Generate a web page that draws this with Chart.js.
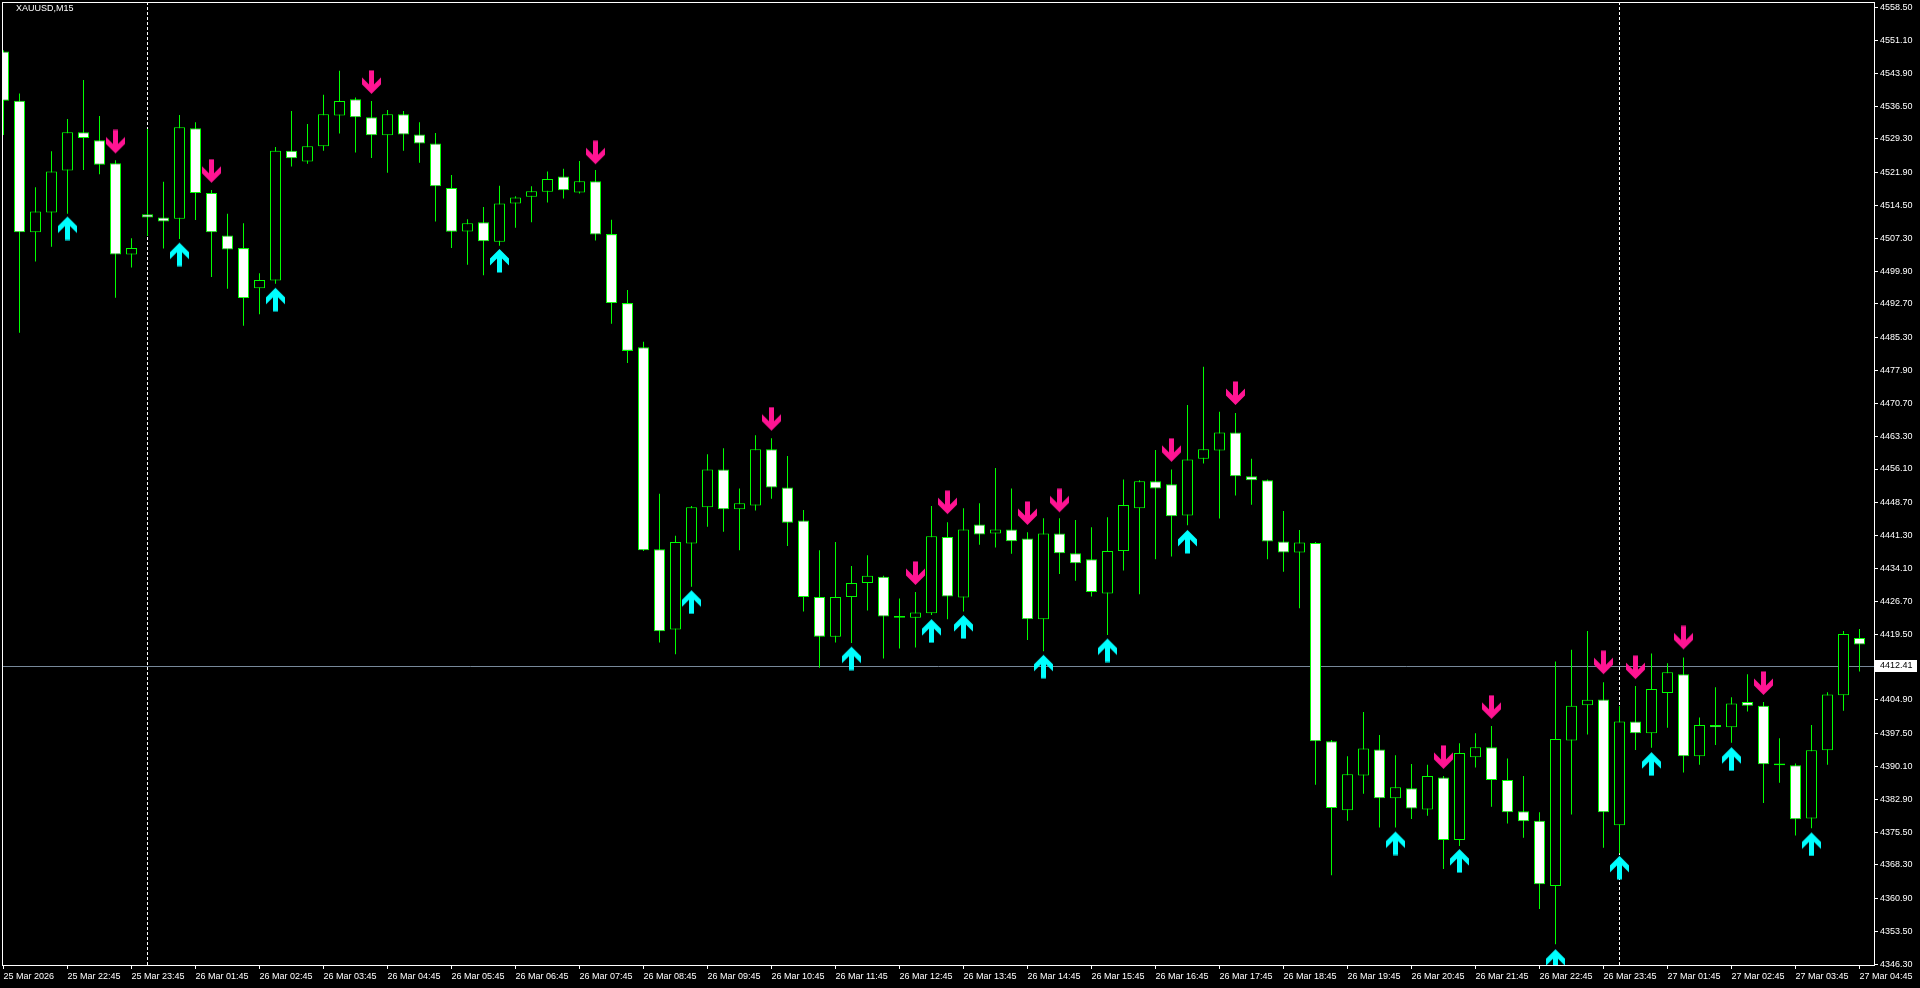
<!DOCTYPE html>
<html>
<head>
<meta charset="utf-8">
<title>XAUUSD,M15</title>
<script src="https://cdn.jsdelivr.net/npm/chart.js@4.4.1/dist/chart.umd.min.js"></script>
<style>
  html, body { margin: 0; padding: 0; background: #000; overflow: hidden; }
  #wrap { position: relative; width: 1920px; height: 988px; }
</style>
</head>
<body>
<div id="wrap"><canvas id="mychart"></canvas></div>
<script>
// M15 bars, oldest first
var open = [4548.7,4537.8,4508.6,4513.0,4522.3,4530.8,4529.0,4523.9,4503.7,4512.6,
  4511.9,4511.6,4531.7,4517.3,4507.9,4505.1,4496.2,4497.9,4526.7,4524.3,
  4527.7,4534.5,4538.1,4534.1,4530.1,4534.8,4530.3,4528.3,4518.4,4508.8,
  4510.8,4506.5,4515.0,4516.5,4517.6,4521.0,4517.4,4519.9,4508.2,4492.9,
  4483.1,4438.3,4420.5,4439.6,4447.6,4456.0,4447.2,4448.0,4460.5,4452.0,
  4444.7,4427.7,4418.9,4427.7,4430.8,4432.2,4423.5,4423.1,4424.1,4441.0,
  4427.6,4443.8,4441.8,4442.7,4440.7,4422.8,4441.8,4437.4,4436.1,4428.5,
  4437.9,4447.4,4453.4,4452.7,4445.8,4458.4,4460.2,4464.2,4454.5,4453.6,
  4440.0,4437.6,4439.7,4395.7,4380.4,4388.1,4393.9,4383.1,4385.3,4380.6,
  4387.7,4373.8,4392.2,4394.4,4387.1,4380.2,4378.1,4363.6,4395.9,4403.7,
  4405.0,4377.1,4400.1,4397.5,4406.4,4410.6,4392.4,4399.3,4398.8,4404.4,
  4403.6,4390.8,4390.4,4378.6,4393.7,4405.9,4418.6];
var high = [4549.0,4539.4,4518.6,4526.6,4533.7,4542.4,4534.4,4524.6,4507.3,4531.5,
  4519.8,4534.6,4533.0,4518.0,4512.7,4510.6,4499.5,4527.5,4535.5,4532.6,
  4539.1,4544.4,4538.5,4537.7,4535.7,4535.5,4533.0,4530.6,4521.3,4511.5,
  4514.2,4518.9,4516.6,4518.8,4522.1,4522.7,4524.4,4522.4,4511.4,4495.8,
  4484.3,4450.6,4441.3,4447.9,4459.4,4460.7,4451.8,4463.6,4462.9,4459.0,
  4447.0,4438.1,4439.9,4434.6,4437.0,4432.4,4427.4,4428.8,4447.9,4444.3,
  4447.4,4448.5,4456.3,4451.8,4442.1,4445.2,4445.2,4444.8,4443.2,4445.4,
  4453.8,4453.6,4460.3,4456.0,4470.3,4478.8,4468.8,4468.5,4458.4,4453.8,
  4446.8,4442.6,4439.9,4396.0,4392.4,4402.2,4397.1,4392.6,4390.7,4390.5,
  4388.0,4395.3,4397.5,4399.1,4391.9,4388.0,4380.0,4413.4,4416.0,4420.2,
  4408.8,4403.5,4408.0,4415.2,4413.0,4414.3,4401.0,4407.7,4405.5,4410.6,
  4404.4,4396.4,4390.8,4399.3,4406.6,4420.2,4420.6];
var low = [4530.2,4486.3,4502.1,4505.4,4512.7,4522.4,4521.5,4494.1,4500.8,4507.8,
  4505.0,4507.1,4511.3,4498.7,4496.1,4487.9,4490.4,4497.2,4523.2,4523.8,
  4526.7,4530.5,4526.3,4525.1,4521.8,4526.7,4524.0,4511.0,4505.1,4501.4,
  4499.1,4505.6,4509.6,4510.8,4515.2,4516.1,4517.2,4506.8,4488.3,4479.6,
  4437.9,4417.6,4415.0,4430.0,4443.3,4442.2,4438.1,4446.9,4449.5,4439.0,
  4424.5,4412.0,4417.6,4417.5,4424.7,4414.1,4416.3,4416.5,4423.7,4422.8,
  4424.5,4439.3,4438.7,4437.3,4418.2,4415.7,4432.8,4431.3,4427.8,4419.3,
  4433.6,4428.3,4436.1,4436.7,4443.6,4457.3,4445.1,4450.2,4448.2,4436.1,
  4433.3,4425.2,4386.1,4366.0,4378.1,4384.1,4376.6,4376.6,4378.5,4379.2,
  4367.4,4372.5,4389.9,4381.2,4377.5,4374.3,4358.5,4350.7,4379.5,4397.2,
  4372.1,4370.9,4393.8,4394.3,4398.7,4388.8,4390.5,4394.9,4395.4,4402.3,
  4382.0,4386.5,4374.8,4376.4,4390.5,4402.5,4411.2];
var close = [4537.8,4508.6,4513.2,4522.1,4530.8,4529.5,4523.6,4503.7,4505.1,4511.9,
  4511.0,4531.9,4517.3,4508.6,4504.8,4494.0,4498.0,4526.7,4525.0,4527.7,
  4534.8,4537.7,4534.1,4530.1,4534.8,4530.3,4528.3,4518.8,4508.7,4510.6,
  4506.6,4515.0,4516.3,4517.7,4520.4,4517.9,4519.9,4508.1,4492.9,4482.3,
  4438.1,4420.1,4439.9,4447.6,4456.0,4447.2,4448.5,4460.5,4452.0,4444.2,
  4427.7,4418.9,4427.7,4430.8,4432.4,4423.4,4423.1,4424.3,4441.2,4427.8,
  4442.7,4441.6,4442.7,4440.1,4422.8,4441.8,4437.4,4435.2,4428.8,4437.9,
  4448.1,4453.4,4451.8,4445.6,4458.2,4460.5,4464.2,4454.5,4453.6,4440.0,
  4437.6,4439.8,4395.7,4380.9,4388.4,4394.1,4383.1,4385.5,4380.8,4388.0,
  4373.8,4393.1,4394.4,4387.1,4380.0,4378.0,4364.0,4396.2,4403.6,4404.9,
  4380.0,4400.1,4397.5,4407.3,4411.0,4392.4,4399.3,4398.8,4404.1,4403.6,
  4390.6,4390.4,4378.4,4393.7,4406.1,4419.5,4417.2];

// signal arrows: bar index and price of the arrow tip
var upArrowBars = [4, 11, 17, 31, 43, 53, 58, 60, 65, 69, 74, 87, 91, 97, 101, 103, 108, 113];
var upArrowPrice = [4512.1, 4506.3, 4496.3, 4504.9, 4429.2, 4416.7, 4422.8, 4423.7, 4414.9, 4418.5,
  4442.6, 4375.7, 4371.8, 4349.6, 4370.3, 4393.3, 4394.4, 4375.5];
var downArrowBars = [7, 13, 23, 37, 48, 57, 59, 64, 66, 73, 77, 90, 93, 100, 102, 105, 110];
var downArrowPrice = [4526.1, 4519.6, 4539.3, 4523.7, 4464.6, 4430.4, 4446.1, 4443.7, 4446.5, 4457.7,
  4470.3, 4389.6, 4400.7, 4410.6, 4409.5, 4416.1, 4406.0];

// one time label every 4 bars
var timeLabels = ["25 Mar 2026", "25 Mar 22:45", "25 Mar 23:45", "26 Mar 01:45", "26 Mar 02:45",
  "26 Mar 03:45", "26 Mar 04:45", "26 Mar 05:45", "26 Mar 06:45", "26 Mar 07:45",
  "26 Mar 08:45", "26 Mar 09:45", "26 Mar 10:45", "26 Mar 11:45", "26 Mar 12:45",
  "26 Mar 13:45", "26 Mar 14:45", "26 Mar 15:45", "26 Mar 16:45", "26 Mar 17:45",
  "26 Mar 18:45", "26 Mar 19:45", "26 Mar 20:45", "26 Mar 21:45", "26 Mar 22:45",
  "26 Mar 23:45", "27 Mar 01:45", "27 Mar 02:45", "27 Mar 03:45", "27 Mar 04:45"];
var barsPerLabel = 4;
var priceLabels = ["4558.50", "4551.10", "4543.90", "4536.50", "4529.30", "4521.90", "4514.50",
  "4507.30", "4499.90", "4492.70", "4485.30", "4477.90", "4470.70", "4463.30", "4456.10",
  "4448.70", "4441.30", "4434.10", "4426.70", "4419.50", "4404.90", "4397.50", "4390.10",
  "4382.90", "4375.50", "4368.30", "4360.90", "4353.50", "4346.30"];
var daySeparators = [9, 101];
var bidPrice = 4412.41;
var symbolName = "XAUUSD,M15";

// visible window
var yMin = 4345.875, yMax = 4559.675;
var leftPad = 2, barStep = 16, firstBarPx = 3.5, plotRight = 1875;
var xMin = (leftPad - firstBarPx) / barStep;
var xMax = xMin + (plotRight - leftPad) / barStep;

var FONT = "'Liberation Sans', Arial, sans-serif";
var LIME = "#00ff00";

// Wingdings-like thick arrow, tip placed at the canvas centre
function makeArrow(color, up) {
    var c = document.createElement("canvas");
    c.width = 19;
    c.height = 48;
    var g = c.getContext("2d");
    var pts = [[0, 0], [9.5, 9.5], [9.5, 16.5], [2.5, 9.5], [2.5, 23.5],
               [-2.5, 23.5], [-2.5, 9.5], [-9.5, 16.5], [-9.5, 9.5]];
    g.fillStyle = color;
    g.beginPath();
    pts.forEach(function(p, k) {
        var x = 9.5 + p[0];
        var y = up ? 24 + p[1] : 24 - p[1];
        if (k === 0) g.moveTo(x, y); else g.lineTo(x, y);
    });
    g.closePath();
    g.fill();
    return c;
}

var chartDecor = {
    id: "chartDecor",
    beforeDraw: function(chart) {
        var ctx = chart.ctx;
        ctx.save();
        ctx.fillStyle = "#000";
        ctx.fillRect(0, 0, chart.width, chart.height);
        ctx.restore();
    },
    beforeDatasetsDraw: function(chart) {
        var ctx = chart.ctx, a = chart.chartArea;
        var xs = chart.scales.x, ys = chart.scales.y;
        ctx.save();
        // day separators
        ctx.strokeStyle = "#ffffff";
        ctx.lineWidth = 1;
        ctx.setLineDash([3, 2]);
        daySeparators.forEach(function(b) {
            var x = Math.floor(xs.getPixelForValue(b)) + 0.5;
            ctx.beginPath();
            ctx.moveTo(x, a.top);
            ctx.lineTo(x, a.bottom);
            ctx.stroke();
        });
        // bid line
        ctx.setLineDash([]);
        ctx.strokeStyle = "#778899";
        var by = Math.floor(ys.getPixelForValue(bidPrice)) + 0.5;
        ctx.beginPath();
        ctx.moveTo(a.left, by);
        ctx.lineTo(a.right, by);
        ctx.stroke();
        ctx.restore();
    },
    afterDraw: function(chart) {
        var ctx = chart.ctx, a = chart.chartArea;
        var ys = chart.scales.y;
        ctx.save();
        // frame
        ctx.strokeStyle = "#ffffff";
        ctx.lineWidth = 1;
        ctx.strokeRect(a.left + 0.5, a.top + 0.5, a.right - a.left - 1, a.bottom - a.top - 1);
        // bid price box
        var by = Math.round(ys.getPixelForValue(bidPrice));
        ctx.fillStyle = "#ffffff";
        ctx.fillRect(a.right, by - 6, 42, 12);
        ctx.fillStyle = "#000000";
        ctx.font = "9px " + FONT;
        ctx.textBaseline = "middle";
        ctx.textAlign = "left";
        ctx.fillText(bidPrice.toFixed(2), a.right + 5, by);
        // symbol name
        ctx.fillStyle = "#ffffff";
        ctx.fillText(symbolName, a.left + 14, a.top + 7);
        ctx.restore();
    }
};

window.addEventListener("load", function() {
    var canvas = document.getElementById("mychart").getContext("2d");

    var wicks = [], bodies = [], bodyFill = [];
    for (var i = 0; i < open.length; i++) {
        wicks.push({x: i, y: [low[i], high[i]]});
        bodies.push({x: i, y: [open[i], close[i]]});
        bodyFill.push(close[i] > open[i] ? "#000000" : "#ffffff");
    }
    var ups = upArrowBars.map(function(b, k) { return {x: b, y: upArrowPrice[k]}; });
    var downs = downArrowBars.map(function(b, k) { return {x: b, y: downArrowPrice[k]}; });

    new Chart(canvas, {
        type: "bar",
        data: {
            datasets: [{
                label: "wicks",
                data: wicks,
                backgroundColor: LIME,
                borderWidth: 0,
                barThickness: 1,
                inflateAmount: 0,
                grouped: false,
                order: 3
            }, {
                label: "bodies",
                data: bodies,
                backgroundColor: bodyFill,
                borderColor: LIME,
                borderWidth: 1,
                borderSkipped: false,
                barThickness: 11,
                inflateAmount: 0,
                grouped: false,
                order: 2
            }, {
                type: "line",
                label: "buy",
                data: ups,
                showLine: false,
                pointStyle: makeArrow("#00ffff", true),
                pointRadius: 5,
                order: 1
            }, {
                type: "line",
                label: "sell",
                data: downs,
                showLine: false,
                pointStyle: makeArrow("#ff1493", false),
                pointRadius: 5,
                order: 0
            }]
        },
        options: {
            responsive: true,
            maintainAspectRatio: false,
            animation: false,
            events: [],
            layout: { autoPadding: false, padding: { left: leftPad, top: 2, right: 0, bottom: 0 } },
            plugins: {
                legend: { display: false },
                tooltip: { enabled: false }
            },
            scales: {
                x: {
                    type: "linear",
                    offset: false,
                    min: xMin,
                    max: xMax,
                    grid: { display: true, offset: false, drawOnChartArea: false, drawTicks: true, tickLength: 3, color: "#ffffff" },
                    border: { display: false },
                    ticks: {
                        color: "#ffffff",
                        font: { family: FONT, size: 9 },
                        padding: 2,
                        align: "start",
                        maxRotation: 0,
                        minRotation: 0,
                        autoSkip: false,
                        callback: function(v, k) { return timeLabels[k]; }
                    },
                    afterBuildTicks: function(s) {
                        s.ticks = timeLabels.map(function(t, k) { return {value: k * barsPerLabel}; });
                    },
                    afterFit: function(s) {
                        s.height = 22;
                        s.paddingLeft = 0;
                        s.paddingRight = 0;
                        s.paddingTop = 0;
                        s.paddingBottom = 0;
                    }
                },
                y: {
                    type: "linear",
                    position: "right",
                    min: yMin,
                    max: yMax,
                    grid: { display: true, drawOnChartArea: false, drawTicks: true, tickLength: 3, color: "#ffffff" },
                    border: { display: false },
                    ticks: {
                        color: "#ffffff",
                        font: { family: FONT, size: 9 },
                        padding: 2,
                        autoSkip: false,
                        callback: function(v, k) { return priceLabels[k]; }
                    },
                    afterBuildTicks: function(s) {
                        s.ticks = priceLabels.map(function(t) { return {value: parseFloat(t)}; });
                    },
                    afterFit: function(s) {
                        s.width = 45;
                        s.paddingLeft = 0;
                        s.paddingRight = 0;
                        s.paddingTop = 0;
                        s.paddingBottom = 0;
                    }
                }
            }
        },
        plugins: [chartDecor]
    });
});
</script>
</body>
</html>
